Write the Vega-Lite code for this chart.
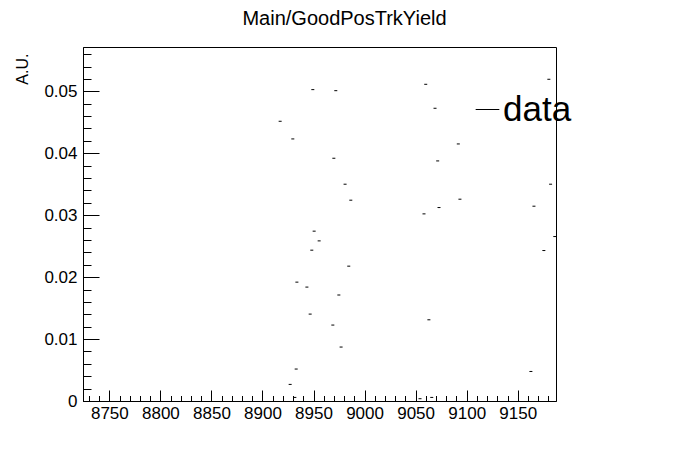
{
  "$schema": "https://vega.github.io/schema/vega-lite/v6.json",
  "autosize": "none",
  "padding": {"left": 83, "top": 47, "right": 140, "bottom": 71},
  "width": 473,
  "height": 354,
  "background": "white",
  "title": {
    "text": "Main/GoodPosTrkYield",
    "font": "Liberation Sans",
    "fontSize": 20,
    "fontWeight": "normal",
    "color": "black",
    "anchor": "middle",
    "baseline": "alphabetic",
    "offset": 2,
    "dx": 25
  },
  "config": {
    "view": {"stroke": "black", "strokeWidth": 1},
    "font": "Liberation Sans"
  },
  "data": {
    "values": [
      {"run": 8917.3, "yield": 0.04516, "series": "data"},
      {"run": 8929.7, "yield": 0.04231, "series": "data"},
      {"run": 8949.3, "yield": 0.05027, "series": "data"},
      {"run": 8971.8, "yield": 0.0501, "series": "data"},
      {"run": 8969.9, "yield": 0.03919, "series": "data"},
      {"run": 8980.9, "yield": 0.035, "series": "data"},
      {"run": 8986.5, "yield": 0.03242, "series": "data"},
      {"run": 8950.6, "yield": 0.02742, "series": "data"},
      {"run": 8955.5, "yield": 0.02585, "series": "data"},
      {"run": 8948.3, "yield": 0.02435, "series": "data"},
      {"run": 8933.7, "yield": 0.01919, "series": "data"},
      {"run": 8943.5, "yield": 0.01839, "series": "data"},
      {"run": 8984.5, "yield": 0.02177, "series": "data"},
      {"run": 8974.8, "yield": 0.0171, "series": "data"},
      {"run": 8946.7, "yield": 0.01403, "series": "data"},
      {"run": 8968.9, "yield": 0.01226, "series": "data"},
      {"run": 8977.0, "yield": 0.00871, "series": "data"},
      {"run": 8933.0, "yield": 0.00516, "series": "data"},
      {"run": 8927.1, "yield": 0.00268, "series": "data"},
      {"run": 8931.7, "yield": 0.00058, "series": "data"},
      {"run": 9059.9, "yield": 0.05113, "series": "data"},
      {"run": 9180.5, "yield": 0.05194, "series": "data"},
      {"run": 9069.0, "yield": 0.04726, "series": "data"},
      {"run": 9091.8, "yield": 0.0415, "series": "data"},
      {"run": 9071.6, "yield": 0.03876, "series": "data"},
      {"run": 9182.2, "yield": 0.035, "series": "data"},
      {"run": 9093.4, "yield": 0.03258, "series": "data"},
      {"run": 9072.9, "yield": 0.03123, "series": "data"},
      {"run": 9165.9, "yield": 0.03145, "series": "data"},
      {"run": 9058.2, "yield": 0.03021, "series": "data"},
      {"run": 9186.3, "yield": 0.02655, "series": "data"},
      {"run": 9175.6, "yield": 0.02429, "series": "data"},
      {"run": 9063.0, "yield": 0.01311, "series": "data"},
      {"run": 9162.9, "yield": 0.00477, "series": "data"},
      {"run": 9054.3, "yield": 0.00037, "series": "data"},
      {"run": 9065.8, "yield": 0.00058, "series": "data"}
    ]
  },
  "layer": [
    {
      "mark": {"type": "tick", "orient": "horizontal", "size": 3, "thickness": 1, "opacity": 1},
      "encoding": {
        "x": {
          "field": "run", "type": "quantitative",
          "scale": {"domain": [8724.2, 9187.5], "nice": false, "zero": false},
          "axis": {
            "orient": "bottom",
            "values": [8750, 8800, 8850, 8900, 8950, 9000, 9050, 9100, 9150],
            "format": "d",
            "tickSize": -11, "tickColor": "black", "tickWidth": 1,
            "labelPadding": 15, "labelFont": "Liberation Sans", "labelFontSize": 17, "labelColor": "black",
            "labelFlush": false, "labelOverlap": false, "labelBaseline": "top",
            "domain": true, "domainColor": "black", "domainWidth": 1,
            "grid": false, "title": null
          }
        },
        "y": {
          "field": "yield", "type": "quantitative",
          "scale": {"domain": [0, 0.05715], "nice": false, "zero": false},
          "axis": {
            "orient": "left",
            "values": [0, 0.01, 0.02, 0.03, 0.04, 0.05],
            "format": ".2~f",
            "tickSize": -16, "tickColor": "black", "tickWidth": 1,
            "labelPadding": 22, "labelFont": "Liberation Sans", "labelFontSize": 17, "labelColor": "black",
            "labelFlush": false, "labelOverlap": false,
            "domain": true, "domainColor": "black", "domainWidth": 1,
            "grid": false,
            "title": "A.U.",
            "titleFont": "Liberation Sans", "titleFontSize": 16, "titleFontWeight": "normal", "titleColor": "black",
            "titleAngle": -90, "titleAlign": "right", "titleBaseline": "bottom",
            "titleX": -53, "titleY": 6
          }
        },
        "color": {
          "field": "series", "type": "nominal",
          "scale": {"range": ["black"]},
          "legend": {
            "orient": "none", "legendX": 387, "legendY": 45,
            "title": null, "padding": 0,
            "symbolType": "stroke", "symbolSize": 560,
            "symbolStrokeColor": "black", "symbolStrokeWidth": 1,
            "labelFont": "Liberation Sans", "labelFontSize": 35, "labelColor": "black",
            "labelOffset": -2
          }
        }
      }
    },
    {
      "mark": {"type": "tick", "orient": "horizontal", "size": 3, "thickness": 1, "opacity": 0},
      "encoding": {
        "x": {
          "field": "run", "type": "quantitative",
          "scale": {"domain": [8724.2, 9187.5], "nice": false, "zero": false},
          "axis": {
            "orient": "bottom",
            "values": [8730, 8740, 8750, 8760, 8770, 8780, 8790, 8800, 8810, 8820, 8830, 8840, 8850, 8860, 8870, 8880, 8890, 8900, 8910, 8920, 8930, 8940, 8950, 8960, 8970, 8980, 8990, 9000, 9010, 9020, 9030, 9040, 9050, 9060, 9070, 9080, 9090, 9100, 9110, 9120, 9130, 9140, 9150, 9160, 9170, 9180],
            "tickSize": -5.5, "tickColor": "black", "tickWidth": 1,
            "labels": false, "domain": false, "grid": false, "title": null
          }
        },
        "y": {
          "field": "yield", "type": "quantitative",
          "scale": {"domain": [0, 0.05715], "nice": false, "zero": false},
          "axis": {
            "orient": "left",
            "values": [0, 0.002, 0.004, 0.006, 0.008, 0.01, 0.012, 0.014, 0.016, 0.018, 0.02, 0.022, 0.024, 0.026, 0.028, 0.03, 0.032, 0.034, 0.036, 0.038, 0.04, 0.042, 0.044, 0.046, 0.048, 0.05, 0.052, 0.054, 0.056],
            "tickSize": -8, "tickColor": "black", "tickWidth": 1,
            "labels": false, "domain": false, "grid": false, "title": null
          }
        }
      }
    }
  ],
  "resolve": {"axis": {"x": "independent", "y": "independent"}}
}
